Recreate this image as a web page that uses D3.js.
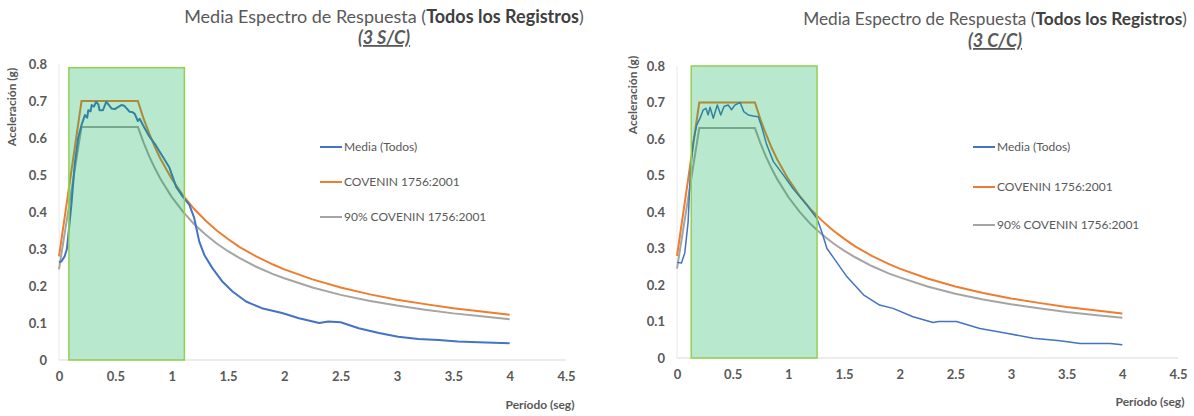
<!DOCTYPE html>
<html><head><meta charset="utf-8">
<script src="https://cdn.jsdelivr.net/npm/d3@7"></script>
<style>
html,body{margin:0;padding:0;background:#fff;}
svg{display:block;font-family:Lato,"Open Sans",sans-serif;}
</style></head>
<body><svg id="c" width="1194" height="416"></svg>
<script>
// ---- data ----
const xTicks = [0, 0.5, 1, 1.5, 2, 2.5, 3, 3.5, 4, 4.5];
const yTicks = [0, 0.1, 0.2, 0.3, 0.4, 0.5, 0.6, 0.7, 0.8];
const legendLabels = ["Media (Todos)", "COVENIN 1756:2001", "90% COVENIN 1756:2001"];
const titles = ["(3 S/C)", "(3 C/C)"];

const periodsCov = [0, 0.2, 0.7, 0.75, 0.8, 0.85, 0.9, 1.0, 1.1, 1.2, 1.3, 1.4, 1.5, 1.6, 1.75, 1.9, 2.0, 2.25, 2.5, 2.75, 3.0, 3.25, 3.5, 3.75, 4.0];
const covenin = [0.28, 0.70, 0.70, 0.653, 0.613, 0.576, 0.544, 0.49, 0.445, 0.408, 0.377, 0.35, 0.327, 0.306, 0.28, 0.258, 0.245, 0.218, 0.196, 0.178, 0.163, 0.151, 0.14, 0.131, 0.122];
const covenin90 = [0.245, 0.63, 0.63, 0.588, 0.551, 0.519, 0.49, 0.441, 0.401, 0.367, 0.339, 0.315, 0.294, 0.276, 0.252, 0.232, 0.221, 0.196, 0.176, 0.16, 0.147, 0.136, 0.126, 0.118, 0.11];

const periodsSC = [0, 0.02, 0.05, 0.07, 0.09, 0.11, 0.14, 0.17, 0.20, 0.23, 0.25, 0.26, 0.28, 0.29, 0.31, 0.33, 0.35, 0.36, 0.39, 0.42, 0.44, 0.465, 0.495, 0.52, 0.553, 0.58, 0.60, 0.627, 0.65, 0.671, 0.70, 0.716, 0.745, 0.80, 0.86, 0.92, 0.98, 1.04, 1.10, 1.157, 1.20, 1.245, 1.29, 1.36, 1.45, 1.54, 1.66, 1.80, 1.98, 2.13, 2.31, 2.39, 2.50, 2.66, 2.84, 3.01, 3.19, 3.37, 3.54, 3.72, 4.0];
const mediaSC = [0.265, 0.266, 0.28, 0.30, 0.36, 0.42, 0.53, 0.60, 0.635, 0.662, 0.655, 0.675, 0.672, 0.689, 0.685, 0.698, 0.69, 0.675, 0.675, 0.698, 0.69, 0.68, 0.678, 0.683, 0.689, 0.687, 0.68, 0.671, 0.67, 0.666, 0.646, 0.652, 0.635, 0.605, 0.58, 0.55, 0.52, 0.468, 0.441, 0.419, 0.384, 0.32, 0.284, 0.249, 0.212, 0.185, 0.158, 0.14, 0.127, 0.113, 0.10, 0.104, 0.102, 0.086, 0.073, 0.063, 0.057, 0.054, 0.05, 0.048, 0.045];

const periodsCC = [0, 0.04, 0.07, 0.10, 0.12, 0.147, 0.177, 0.207, 0.236, 0.26, 0.28, 0.297, 0.326, 0.362, 0.393, 0.422, 0.46, 0.49, 0.52, 0.567, 0.60, 0.64, 0.685, 0.73, 0.76, 0.806, 0.866, 0.956, 1.04, 1.165, 1.256, 1.30, 1.347, 1.41, 1.525, 1.675, 1.82, 1.94, 2.12, 2.30, 2.35, 2.51, 2.72, 2.96, 3.2, 3.44, 3.62, 3.89, 4.0];
const mediaCC = [0.262, 0.26, 0.288, 0.373, 0.51, 0.593, 0.638, 0.657, 0.68, 0.684, 0.666, 0.687, 0.657, 0.693, 0.666, 0.689, 0.693, 0.68, 0.693, 0.70, 0.675, 0.666, 0.663, 0.661, 0.634, 0.584, 0.538, 0.501, 0.465, 0.419, 0.383, 0.346, 0.30, 0.273, 0.223, 0.173, 0.145, 0.136, 0.113, 0.097, 0.10, 0.10, 0.081, 0.068, 0.054, 0.047, 0.040, 0.040, 0.036];

// highlighted period band [start, end, top]
const bandSC = [0.088, 1.113, 0.79];
const bandCC = [0.128, 1.258, 0.80];

// ---- layout ----
const charts = [
  {x0:59, x1:566, yb:360, yt:64, band:bandSC, periods:periodsSC, media:mediaSC, sub:titles[0],
   titleX:384, titleY:23, subY:44, titleSize:18, yTitleX:16, yTitleY:107, xTitleX:540, xTitleY:409,
   legX:320, legY:[147,182,217], mediaW:2},
  {x0:677, x1:1178, yb:358, yt:66, band:bandCC, periods:periodsCC, media:mediaCC, sub:titles[1],
   titleX:995, titleY:25, subY:47, titleSize:17.3, yTitleX:637, yTitleY:95, xTitleX:1150, xTitleY:406,
   legX:973, legY:[147,187,225], mediaW:1.5}
];
const colors = ["#4472C4", "#ED7D31", "#A5A5A5"];
const svg = d3.select("#c");

charts.forEach(c => {
  const g = svg.append("g");
  const x = d3.scaleLinear().domain([0, 4.5]).range([c.x0, c.x1]);
  const y = d3.scaleLinear().domain([0, 0.8]).range([c.yb, c.yt]);

  // axes lines
  g.append("line").attr("x1", x(0)).attr("x2", x(4.5)).attr("y1", y(0)).attr("y2", y(0))
    .attr("stroke", "#d9d9d9").attr("stroke-width", 1);
  g.append("line").attr("x1", x(0)).attr("x2", x(0)).attr("y1", y(0)).attr("y2", y(0.8))
    .attr("stroke", "#e8e8e8").attr("stroke-width", 1);

  const xa = d3.axisBottom(x).tickValues(xTicks).tickSize(0).tickPadding(12).tickFormat(d => String(d));
  const gx = g.append("g").attr("transform", `translate(0,${y(0)})`).call(xa);
  const ya = d3.axisLeft(y).tickValues(yTicks).tickSize(0).tickPadding(12).tickFormat(d => d === 0 ? "0" : d3.format(".1f")(d));
  const gy = g.append("g").attr("transform", `translate(${x(0)},0)`).call(ya);
  [gx, gy].forEach(a => {
    a.select(".domain").remove();
    a.selectAll("text").attr("fill", "#595959").style("font-size", "13px").style("font-weight", "700")
      .style("font-family", "Lato, sans-serif");
  });

  // lines
  const line = d3.line().x(d => x(d[0])).y(d => y(d[1]));
  const sMedia = c.periods.map((p, i) => [p, c.media[i]]);
  const sCov = periodsCov.map((p, i) => [p, covenin[i]]);
  const sCov90 = periodsCov.map((p, i) => [p, covenin90[i]]);
  g.append("path").attr("d", line(sCov90)).attr("fill", "none").attr("stroke", colors[2]).attr("stroke-width", 2);
  g.append("path").attr("d", line(sCov)).attr("fill", "none").attr("stroke", colors[1]).attr("stroke-width", 2);
  g.append("path").attr("d", line(sMedia)).attr("fill", "none").attr("stroke", colors[0]).attr("stroke-width", c.mediaW)
    .attr("stroke-linejoin", "round");

  // band
  g.append("rect").attr("x", x(c.band[0])).attr("y", y(c.band[2]))
    .attr("width", x(c.band[1]) - x(c.band[0])).attr("height", y(0) - y(c.band[2]))
    .attr("fill", "#00B050").attr("fill-opacity", 0.28)
    .attr("stroke", "#92D050").attr("stroke-width", 1.5);

  // titles
  const t = g.append("text").attr("x", c.titleX).attr("y", c.titleY).attr("text-anchor", "middle")
    .style("font-size", c.titleSize + "px").attr("fill", "#595959");
  t.append("tspan").text("Media Espectro de Respuesta (");
  t.append("tspan").text("Todos los Registros").style("font-weight", "700").attr("fill", "#404040");
  t.append("tspan").text(")");
  g.append("text").attr("x", c.titleX).attr("y", c.subY).attr("text-anchor", "middle")
    .style("font-size", "18px").style("font-weight", "700").style("font-style", "italic")
    .style("text-decoration", "underline").attr("fill", "#595959").text(c.sub);

  g.append("text").attr("transform", `translate(${c.yTitleX},${c.yTitleY}) rotate(-90)`)
    .attr("text-anchor", "middle").style("font-size", "12px").style("font-weight", "700")
    .attr("fill", "#595959").text("Aceleración (g)");
  g.append("text").attr("x", c.xTitleX).attr("y", c.xTitleY).attr("text-anchor", "middle")
    .style("font-size", "12px").style("font-weight", "700").attr("fill", "#595959").text("Período (seg)");

  // legend
  legendLabels.forEach((lab, i) => {
    g.append("line").attr("x1", c.legX).attr("x2", c.legX + 22).attr("y1", c.legY[i]).attr("y2", c.legY[i])
      .attr("stroke", colors[i]).attr("stroke-width", 2);
    g.append("text").attr("x", c.legX + 24).attr("y", c.legY[i]).attr("dy", "0.35em")
      .style("font-size", "12px").attr("fill", "#595959").text(lab);
  });
});
</script></body></html>
